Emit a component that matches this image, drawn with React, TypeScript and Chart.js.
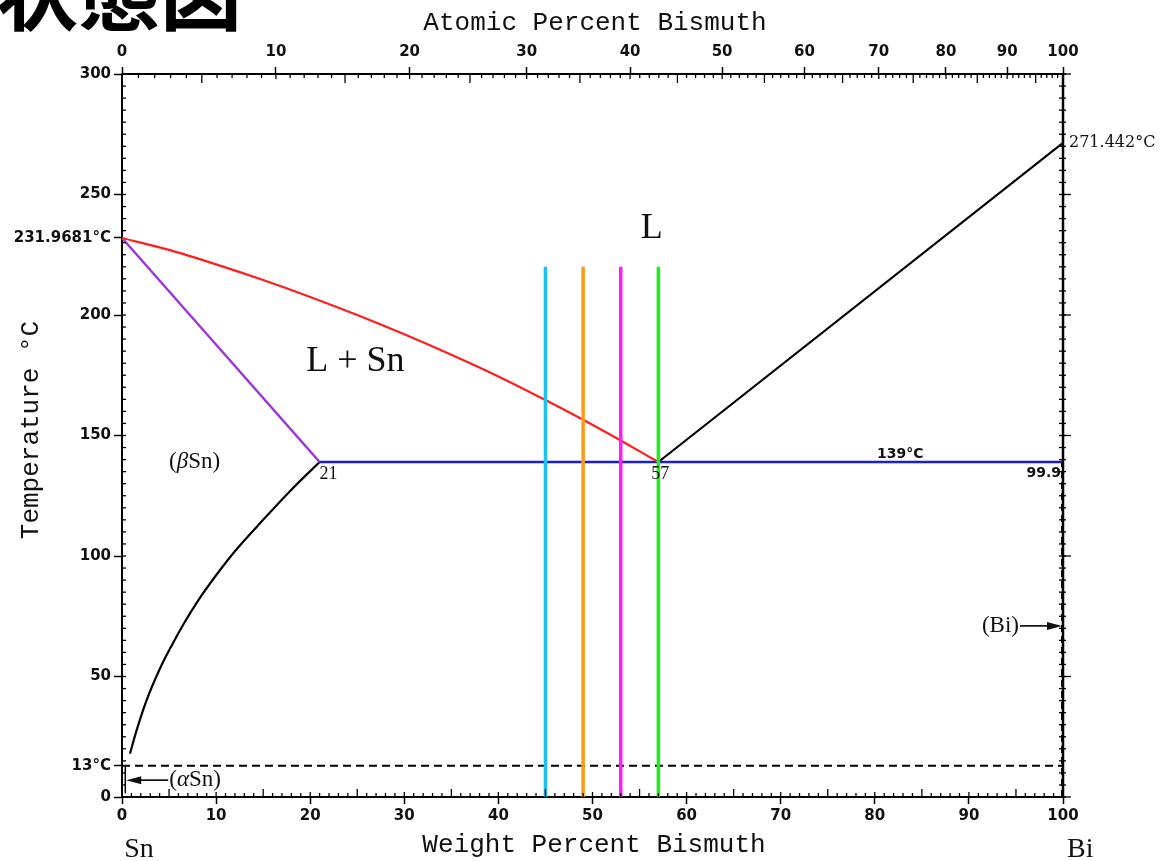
import React, { useEffect, useRef } from 'react';
import { Chart, registerables } from 'chart.js';
Chart.register(...registerables);

// Atomic masses used to map atomic % onto the weight % axis
const M_SN = 118.71;
const M_BI = 208.98;

const WT_TICKS = [0, 10, 20, 30, 40, 50, 60, 70, 80, 90, 100];
const AT_TICKS = [0, 10, 20, 30, 40, 50, 60, 70, 80, 90, 100];
const TEMP_TICKS = [0, 13, 50, 100, 150, 200, 231.9681, 250, 300];
const TEMP_TICK_LABELS = ['0', '13°C', '50', '100', '150', '200', '231.9681°C', '250', '300'];

// Liquidus on the Sn side (red)
const LIQ_SN_WT = [0, 5, 10, 15, 20, 25, 30, 35, 40, 45, 49, 53, 57];
const LIQ_SN_T = [231.9681, 227, 221, 214.5, 207.5, 200, 192, 183.5, 174.5, 164.7, 156.5, 147.9, 139];

// Solidus of (βSn) (purple)
const SOLIDUS_WT = [0, 21];
const SOLIDUS_T = [231.9681, 139];

// Solvus of (βSn) (black)
const SOLVUS_WT = [0.85, 1.5, 2.6, 4, 5.3, 6.5, 8, 10, 12, 15, 18, 21];
const SOLVUS_T = [18, 27, 40, 53, 63, 71.5, 81, 92, 102, 115, 127.5, 139];

// Eutectic isotherm (blue)
const EUTECTIC_WT = [21, 99.9];
const EUTECTIC_T = [139, 139];

// Liquidus on the Bi side (black)
const LIQ_BI_WT = [57, 100];
const LIQ_BI_T = [139, 271.442];

// (Bi) solvus (dashed)
const BI_SOLVUS_WT = [99.9, 99.9];
const BI_SOLVUS_T = [0, 139];

// αSn / βSn transformation (dashed)
const ALLOTROPIC_WT = [0, 100];
const ALLOTROPIC_T = [13, 13];

// (αSn) boundary
const ALPHA_WT = [0.35, 0.35];
const ALPHA_T = [1.5, 13];

// Marked alloy compositions
const ALLOY_WT = [45, 49, 53, 57];
const ALLOY_COLORS = ['#1cc3f2', '#ff9a14', '#ff1cff', '#1ef01e'];
const ALLOY_T = [0, 220];

const atToWt = (a: number) => (100 * a * M_BI) / (a * M_BI + (100 - a) * M_SN);
const pts = (xs: number[], ys: number[]) => xs.map((x, i) => ({ x, y: ys[i] }));

const annotationPlugin = {
  id: 'phaseAnnotations',
  afterDraw(chart: any) {
    const ctx = chart.ctx as CanvasRenderingContext2D;
    const { left, right, top, bottom } = chart.chartArea;
    const xs = chart.scales.x;
    const ys = chart.scales.y;
    const px = (w: number) => xs.getPixelForValue(w);
    const py = (t: number) => ys.getPixelForValue(t);
    const line = (x1: number, y1: number, x2: number, y2: number) => {
      ctx.beginPath();
      ctx.moveTo(x1, y1);
      ctx.lineTo(x2, y2);
      ctx.stroke();
    };
    ctx.save();
    ctx.strokeStyle = '#000';
    ctx.lineWidth = 1.3;
    // bottom minor ticks (weight %)
    for (let w = 0; w <= 100; w++) {
      const len = w % 10 === 0 ? 5 : w % 5 === 0 ? 8 : 4;
      line(px(w), bottom, px(w), bottom - len);
    }
    // top minor ticks (atomic %)
    for (let a = 0; a <= 100; a++) {
      const len = a % 10 === 0 ? 5 : a % 5 === 0 ? 9 : 4;
      line(px(atToWt(a)), top, px(atToWt(a)), top + len);
    }
    // left minor ticks
    for (let t = 0; t <= 300; t += 5) {
      line(left, py(t), left + 4, py(t));
    }
    // right axis with ticks
    for (let t = 0; t <= 300; t += 5) {
      line(right - 4, py(t), right + 3, py(t));
      if (t % 50 === 0) line(right, py(t), right + 8, py(t));
    }
    ctx.lineWidth = 2.5;
    line(right, top - 1, right, bottom + 1);

    ctx.fillStyle = '#111';
    // Region labels
    ctx.font = '36px "Liberation Serif"';
    ctx.textAlign = 'center';
    ctx.textBaseline = 'middle';
    ctx.fillText('L', px(56.3), py(236));
    ctx.fillText('L + Sn', px(24.8), py(180.5));

    // (βSn)
    ctx.font = '23px "Liberation Serif"';
    ctx.textAlign = 'left';
    let bx = px(5.0);
    const by = py(139);
    ctx.fillText('(', bx, by);
    bx += ctx.measureText('(').width;
    ctx.font = 'italic 23px "Liberation Serif"';
    ctx.fillText('β', bx, by);
    bx += ctx.measureText('β').width;
    ctx.font = '23px "Liberation Serif"';
    ctx.fillText('Sn)', bx, by);

    // Composition labels
    ctx.font = '18px "Liberation Serif"';
    ctx.textBaseline = 'top';
    ctx.textAlign = 'left';
    ctx.fillText('21', px(21), py(139) + 3);
    ctx.textAlign = 'center';
    ctx.fillText('57', px(57) + 2, py(139) + 3);

    ctx.font = 'bold 14px "DejaVu Sans"';
    ctx.textAlign = 'center';
    ctx.textBaseline = 'alphabetic';
    ctx.fillText('139°C', px(82.7), py(139) - 4);
    ctx.textAlign = 'right';
    ctx.textBaseline = 'top';
    ctx.fillText('99.9', right - 2, py(139) + 4);

    ctx.font = '16px "DejaVu Serif"';
    ctx.textAlign = 'left';
    ctx.textBaseline = 'middle';
    ctx.fillText('271.442°C', right + 6, py(271.442));

    // (Bi) with arrow
    const biY = py(71);
    ctx.font = '23px "Liberation Serif"';
    ctx.textAlign = 'right';
    ctx.fillText('(Bi)', right - 44, biY);
    ctx.lineWidth = 1.6;
    line(right - 43, biY, right - 12, biY);
    ctx.beginPath();
    ctx.moveTo(right - 1, biY);
    ctx.lineTo(right - 16, biY - 4);
    ctx.lineTo(right - 16, biY + 4);
    ctx.closePath();
    ctx.fill();

    // (αSn) with arrow
    const aY = py(7);
    const aStart = px(0.45);
    ctx.beginPath();
    ctx.moveTo(aStart, aY);
    ctx.lineTo(aStart + 15, aY - 4);
    ctx.lineTo(aStart + 15, aY + 4);
    ctx.closePath();
    ctx.fill();
    line(aStart + 12, aY, aStart + 42, aY);
    ctx.font = '23px "Liberation Serif"';
    ctx.textAlign = 'left';
    let ax = aStart + 43;
    ctx.fillText('(', ax, aY);
    ax += ctx.measureText('(').width;
    ctx.font = 'italic 23px "Liberation Serif"';
    ctx.fillText('α', ax, aY);
    ax += ctx.measureText('α').width;
    ctx.font = '23px "Liberation Serif"';
    ctx.fillText('Sn)', ax, aY);

    // Element names
    ctx.font = '28px "Liberation Serif"';
    ctx.textBaseline = 'alphabetic';
    ctx.textAlign = 'center';
    ctx.fillText('Sn', px(1.8), 857);
    ctx.textAlign = 'left';
    ctx.fillText('Bi', right + 4, 857);

    // Axis titles
    ctx.font = '26px "Liberation Mono"';
    ctx.textAlign = 'center';
    ctx.fillText('Atomic Percent Bismuth', 595, 30);
    ctx.fillText('Weight Percent Bismuth', 594, 852);
    ctx.save();
    ctx.translate(38, 430);
    ctx.rotate(-Math.PI / 2);
    ctx.fillText('Temperature °C', 0, 0);
    ctx.restore();

    // Slide heading (cut off at the top-left)
    ctx.fillStyle = '#000';
    ctx.font = 'bold 82px "Noto Sans CJK JP"';
    ctx.textAlign = 'right';
    ctx.textBaseline = 'ideographic';
    ctx.fillText('状態図', 242, 34);
    ctx.restore();
  },
};

export default function App() {
  const ref = useRef<HTMLCanvasElement | null>(null);
  useEffect(() => {
    if (!ref.current) return;
    const lineDs = (data: any[], color: string, width: number, extra: any = {}) => ({
      data,
      borderColor: color,
      backgroundColor: color,
      borderWidth: width,
      showLine: true,
      pointRadius: 0,
      fill: false,
      ...extra,
    });
    const datasets: any[] = [
      ...ALLOY_WT.map((w, i) => lineDs(pts([w, w], ALLOY_T), ALLOY_COLORS[i], 3.5)),
      lineDs(pts(LIQ_SN_WT, LIQ_SN_T), '#ff1e1e', 2.2, { cubicInterpolationMode: 'monotone' }),
      lineDs(pts(SOLIDUS_WT, SOLIDUS_T), '#9b35d8', 2.5),
      lineDs(pts(EUTECTIC_WT, EUTECTIC_T), '#1b1bd0', 2.5),
      lineDs(pts(SOLVUS_WT, SOLVUS_T), '#000', 2.2, { cubicInterpolationMode: 'monotone' }),
      lineDs(pts(LIQ_BI_WT, LIQ_BI_T), '#000', 2.2),
      lineDs(pts(BI_SOLVUS_WT, BI_SOLVUS_T), '#000', 2, { borderDash: [7, 4] }),
      lineDs(pts(ALLOTROPIC_WT, ALLOTROPIC_T), '#000', 2, { borderDash: [8, 5] }),
      lineDs(pts(ALPHA_WT, ALPHA_T), '#000', 1.5),
    ];
    const tickFont = { family: '"DejaVu Sans"', size: 15, weight: 'bold' as const };
    const chart = new Chart(ref.current, {
      type: 'scatter',
      data: { datasets },
      plugins: [annotationPlugin],
      options: {
        animation: false,
        responsive: false,
        layout: { padding: { left: 0, right: 111, top: 0, bottom: 0 } },
        plugins: { legend: { display: false }, tooltip: { enabled: false } },
        scales: {
          x: {
            type: 'linear',
            position: 'bottom',
            min: 0,
            max: 100,
            afterBuildTicks: (s: any) => {
              s.ticks = WT_TICKS.map((v) => ({ value: v }));
            },
            afterFit: (s: any) => {
              s.height = 64;
            },
            ticks: { autoSkip: false, maxRotation: 0, padding: 3, color: '#111', font: tickFont },
            grid: { drawOnChartArea: false, drawTicks: true, tickLength: 7, tickColor: '#000', tickWidth: 1.5 },
            border: { display: true, color: '#000', width: 2 },
          },
          x2: {
            type: 'linear',
            position: 'top',
            min: 0,
            max: 100,
            afterBuildTicks: (s: any) => {
              s.ticks = AT_TICKS.map((a) => ({ value: atToWt(a) }));
            },
            afterFit: (s: any) => {
              s.height = 74;
            },
            ticks: {
              autoSkip: false,
              maxRotation: 0,
              padding: 6,
              color: '#111',
              font: tickFont,
              callback: (_v: any, i: number) => String(AT_TICKS[i]),
            },
            grid: { drawOnChartArea: false, drawTicks: true, tickLength: 7, tickColor: '#000', tickWidth: 1.5 },
            border: { display: true, color: '#000', width: 2 },
          },
          y: {
            type: 'linear',
            position: 'left',
            min: 0,
            max: 300,
            afterBuildTicks: (s: any) => {
              s.ticks = TEMP_TICKS.map((v) => ({ value: v }));
            },
            afterFit: (s: any) => {
              s.width = 122;
            },
            ticks: {
              autoSkip: false,
              padding: 3,
              color: '#111',
              font: tickFont,
              callback: (_v: any, i: number) => TEMP_TICK_LABELS[i],
            },
            grid: { drawOnChartArea: false, drawTicks: true, tickLength: 8, tickColor: '#000', tickWidth: 1.5 },
            border: { display: true, color: '#000', width: 2 },
          },
        },
      },
    });
    return () => chart.destroy();
  }, []);
  return (
    <div style={{ position: 'fixed', left: 0, top: 0, width: 1174, height: 861, background: '#fff' }}>
      <canvas ref={ref} width={1174} height={861} style={{ display: 'block' }} />
    </div>
  );
}
